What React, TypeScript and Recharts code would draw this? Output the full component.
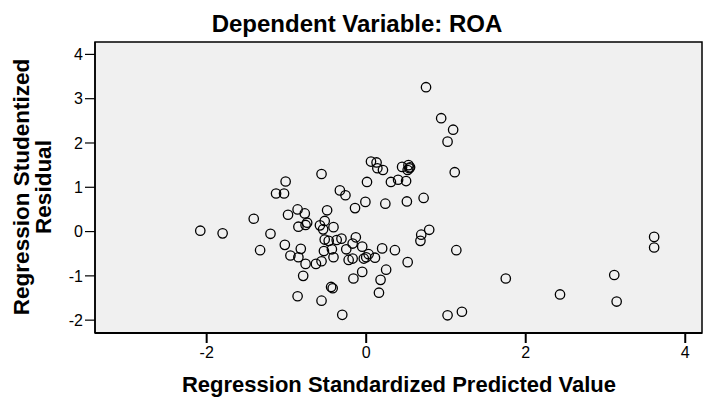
import { ReferenceArea, Scatter, ScatterChart, XAxis, YAxis } from "recharts";

// SPSS residual plot: standardized predicted value vs studentized residual
const predicted = [
  -0.56, -1.01, -1.13, -1.03, -0.33, -0.26, 0.01, -0.01, -0.14, -1.41,
  -0.98, -0.86, -0.77, -0.49, -0.74, -0.85, -0.76, -0.58, -0.52, -0.54,
  -0.41, -1.2, -1.33, -1.02, -0.95, -0.82, -0.85, -0.76, -0.79, -0.63,
  -0.56, -0.53, -0.43, -0.41, -0.52, -0.47, -0.37, -0.31, -0.25, -0.22,
  -0.17, -0.13, -0.17, -0.05, -0.03, 0.0, 0.03, -0.05, -0.16, -0.44,
  -0.42, -0.86, -0.56, -0.3, -2.08, -1.8, 0.75, 0.94, 1.09, 1.02,
  1.11, 0.06, 0.13, 0.14, 0.21, 0.31, 0.4, 0.5, 0.45, 0.53,
  0.54, 0.52, 0.55, 0.24, 0.51, 0.72, 0.79, 0.69, 0.68, 1.13,
  0.2, 0.36, 0.52, 0.25, 0.18, 0.16, 0.11, 1.02, 1.2, 1.75,
  2.43, 3.11, 3.14, 3.61, 3.61,
];
const residual = [
  1.3, 1.13, 0.86, 0.86, 0.93, 0.82, 1.12, 0.67, 0.53, 0.29,
  0.38, 0.5, 0.41, 0.48, 0.2, 0.11, 0.15, 0.14, 0.24, 0.05,
  0.1, -0.05, -0.42, -0.3, -0.54, -0.39, -0.58, -0.73, -1.0, -0.73,
  -0.67, -0.44, -0.4, -0.58, -0.18, -0.21, -0.19, -0.16, -0.4, -0.64,
  -0.61, -0.13, -0.27, -0.34, -0.61, -0.58, -0.51, -0.91, -1.06, -1.25,
  -1.28, -1.46, -1.56, -1.88, 0.02, -0.04, 3.26, 2.56, 2.3, 2.03,
  1.34, 1.58, 1.56, 1.43, 1.39, 1.12, 1.17, 1.14, 1.46, 1.5,
  1.43, 1.39, 1.45, 0.63, 0.68, 0.76, 0.04, -0.07, -0.21, -0.42,
  -0.38, -0.42, -0.69, -0.86, -1.09, -1.38, -0.59, -1.89, -1.81, -1.06,
  -1.42, -0.98, -1.58, -0.12, -0.36,
];
const xTicks = [-2, 0, 2, 4];
const yTicks = [-2, -1, 0, 1, 2, 3, 4];
const xDomain = [-3.4, 4.21];
const yDomain = [-2.29, 4.28];

const points = predicted.map((x, i) => ({ x, y: residual[i] }));

const FONT = "'Liberation Sans', Arial, sans-serif";
const TICK_FONT = "'Liberation Sans Narrow', 'Arial Narrow', 'Liberation Sans', sans-serif";

function OpenCircle({ cx, cy }: { cx?: number; cy?: number }) {
  return <circle cx={cx} cy={cy} r={4.7} fill="none" stroke="#000" strokeWidth={1.3} />;
}

export default function App() {
  return (
    <div style={{ position: "absolute", left: 0, top: 0, width: 707, height: 400, background: "#fff" }}>
      <ScatterChart
        width={707}
        height={400}
        margin={{ top: 42, right: 5, bottom: 0, left: 0 }}
      >
        <ReferenceArea
          x1={xDomain[0]}
          x2={xDomain[1]}
          y1={yDomain[0]}
          y2={yDomain[1]}
          fill="#f0f0f0"
          fillOpacity={1}
          stroke="#000"
          strokeWidth={1.5}
          ifOverflow="visible"
        />
        <XAxis
          type="number"
          dataKey="x"
          domain={xDomain}
          ticks={xTicks}
          allowDataOverflow
          height={67}
          axisLine={{ stroke: "#000", strokeWidth: 2 }}
          tickLine={{ stroke: "#000", strokeWidth: 2 }}
          tickSize={10}
          tickMargin={4}
          tick={{ fill: "#000", fontSize: 16, fontFamily: TICK_FONT }}
        />
        <YAxis
          type="number"
          dataKey="y"
          domain={yDomain}
          ticks={yTicks}
          allowDataOverflow
          width={95}
          axisLine={{ stroke: "#000", strokeWidth: 1.5 }}
          tickLine={{ stroke: "#000", strokeWidth: 1.2 }}
          tickSize={10}
          tickMargin={2}
          tick={{ fill: "#000", fontSize: 16, fontFamily: TICK_FONT }}
        />
        <Scatter data={points} shape={<OpenCircle />} isAnimationActive={false} />
      </ScatterChart>
      <svg
        width={707}
        height={400}
        style={{ position: "absolute", left: 0, top: 0, pointerEvents: "none" }}
      >
        <text x={357} y={32} textAnchor="middle" fontFamily={FONT} fontWeight="bold" fontSize={24}>
          Dependent Variable: ROA
        </text>
        <text x={399} y={392} textAnchor="middle" fontFamily={FONT} fontWeight="bold" fontSize={22}>
          Regression Standardized Predicted Value
        </text>
        <text
          transform="translate(29,187) rotate(-90)"
          textAnchor="middle"
          fontFamily={FONT}
          fontWeight="bold"
          fontSize={22.5}
        >
          Regression Studentized
        </text>
        <text
          transform="translate(51,187) rotate(-90)"
          textAnchor="middle"
          fontFamily={FONT}
          fontWeight="bold"
          fontSize={22.5}
        >
          Residual
        </text>
      </svg>
    </div>
  );
}
